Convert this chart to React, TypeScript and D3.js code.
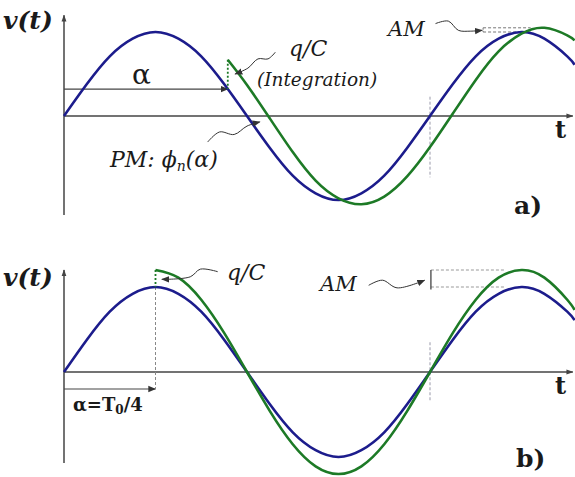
import React from "react";
import * as d3 from "d3";

// time axis: blue period T0 = 4 units
const tBlue = [0, 0.25, 0.5, 0.75, 1, 1.25, 1.5, 1.75, 2, 2.25, 2.5, 2.75, 3, 3.25, 3.5, 3.75, 4, 4.25, 4.5, 4.75, 5, 5.25, 5.5, 5.58];
const vBlue = [0, 0.38, 0.71, 0.92, 1, 0.92, 0.71, 0.38, 0, -0.38, -0.71, -0.92, -1, -0.92, -0.71, -0.38, 0, 0.38, 0.71, 0.92, 1, 0.92, 0.71, 0.61];

// panel a) green starts at alpha
const tGreenA = [1.79, 2, 2.25, 2.5, 2.75, 3, 3.25, 3.5, 3.75, 4, 4.25, 4.5, 4.75, 5, 5.25, 5.5, 5.58];
const vGreenA = [0.67, 0.37, -0.03, -0.43, -0.77, -0.98, -1.05, -0.96, -0.72, -0.37, 0.03, 0.43, 0.77, 0.98, 1.05, 0.96, 0.9];

// panel b) green starts at alpha = T0/4
const tGreenB = [1, 1.25, 1.5, 1.75, 2, 2.25, 2.5, 2.75, 3, 3.25, 3.5, 3.75, 4, 4.25, 4.5, 4.75, 5, 5.25, 5.5, 5.58];
const vGreenB = [1.2, 1.11, 0.85, 0.46, 0, -0.46, -0.85, -1.11, -1.2, -1.11, -0.85, -0.46, 0, 0.46, 0.85, 1.11, 1.2, 1.11, 0.85, 0.73];

const alphaA = 1.79;
const alphaB = 1;

const BLUE = "#1c1c8c";
const GREEN = "#1d7a26";
const AXIS = "#444";

const x = d3.scaleLinear().domain([0, 4]).range([64, 430]);
const yA = d3.scaleLinear().domain([-1, 1]).range([200, 32]);
const yB = d3.scaleLinear().domain([-1, 1]).range([457, 287]);

function pts(ts: number[], vs: number[]): [number, number][] {
  return ts.map((t, i) => [t, vs[i]]);
}

const SERIF = "'DejaVu Serif'";
const T = (p: any) => <text {...p} fontFamily={SERIF} fill="#1a1a1a" />;

export default function App() {
  const lineA = d3.line<[number, number]>().x(d => x(d[0])).y(d => yA(d[1])).curve(d3.curveNatural);
  const lineB = d3.line<[number, number]>().x(d => x(d[0])).y(d => yB(d[1])).curve(d3.curveNatural);
  const sqA = d3.line<[number, number]>().x(d => x(d[0])).y(d => yA(d[1])).curve(d3.curveCatmullRom);
  const sqB = d3.line<[number, number]>().x(d => x(d[0])).y(d => yB(d[1])).curve(d3.curveCatmullRom);

  const vBlueAtAlphaA = 0.32;

  return (
    <svg width={575} height={477} style={{ position: "absolute", left: 0, top: 0, background: "#fff" }}>
      <defs>
        <marker id="ax" viewBox="0 0 10 10" refX="9" refY="5" markerWidth="7" markerHeight="7" orient="auto" markerUnits="userSpaceOnUse">
          <path d="M0,1.5 L10,5 L0,8.5 z" fill={AXIS} />
        </marker>
        <marker id="ar" viewBox="0 0 10 10" refX="9" refY="5" markerWidth="8" markerHeight="8" orient="auto" markerUnits="userSpaceOnUse">
          <path d="M0,1 L10,5 L0,9 z" fill="#333" />
        </marker>
      </defs>

      {/* ===== Panel a ===== */}
      <line x1={x(0)} y1={yA(-1.18)} x2={x(0)} y2={yA(1.2)} stroke={AXIS} strokeWidth={1.5} markerEnd="url(#ax)" />
      <line x1={x(0)} y1={yA(0)} x2={x(5.56)} y2={yA(0)} stroke={AXIS} strokeWidth={1.5} markerEnd="url(#ax)" />
      <line x1={x(0)} y1={yA(vBlueAtAlphaA)} x2={x(alphaA)} y2={yA(vBlueAtAlphaA)} stroke={AXIS} strokeWidth={1.2} markerEnd="url(#ar)" />
      <line x1={x(4)} y1={yA(0.23)} x2={x(4)} y2={yA(-0.73)} stroke="#99a" strokeWidth={1} strokeDasharray="3,2" />
      <line x1={x(4.58)} y1={yA(1.05)} x2={x(5.1)} y2={yA(1.05)} stroke="#777" strokeWidth={1} strokeDasharray="3,2" />
      <line x1={x(4.58)} y1={yA(1.0)} x2={x(5.1)} y2={yA(1.0)} stroke="#777" strokeWidth={1} strokeDasharray="3,2" />
      <line x1={x(4.58)} y1={yA(1.05)} x2={x(4.58)} y2={yA(1.0)} stroke="#777" strokeWidth={1} strokeDasharray="2,1" />
      <path d={lineA(pts(tBlue, vBlue)) || ""} fill="none" stroke={BLUE} strokeWidth={2.6} />
      <path d={lineA(pts(tGreenA, vGreenA)) || ""} fill="none" stroke={GREEN} strokeWidth={2.6} />
      <line x1={x(alphaA)} y1={yA(vGreenA[0])} x2={x(alphaA)} y2={yA(vBlueAtAlphaA)} stroke={GREEN} strokeWidth={1.8} strokeDasharray="2,2" />
      <path d={sqA([[1.57, -0.31], [1.7, -0.19], [1.86, -0.22], [2.0, -0.12], [2.14, -0.07]]) || ""} fill="none" stroke="#333" strokeWidth={1} markerEnd="url(#ar)" />
      <path d={sqA([[2.31, 0.76], [2.23, 0.68], [2.12, 0.68], [2.01, 0.57], [1.87, 0.5]]) || ""} fill="none" stroke="#333" strokeWidth={1} markerEnd="url(#ar)" />
      <path d={sqA([[4.06, 1.1], [4.2, 1.13], [4.31, 1.02], [4.44, 1.01], [4.57, 1.02]]) || ""} fill="none" stroke="#333" strokeWidth={1} markerEnd="url(#ar)" />
      <T x={3} y={29} fontSize={25} fontWeight="bold" fontStyle="italic">v(t)</T>
      <T x={132} y={84} fontSize={28}>α</T>
      <T x={289} y={56} fontSize={22} fontStyle="italic">q/C</T>
      <T x={257} y={86} fontSize={18.5} fontStyle="italic">(Integration)</T>
      <T x={110} y={167} fontSize={22} fontStyle="italic">PM: {"\u03D5"}<tspan fontSize={14} dy={4}>n</tspan><tspan dy={-4}>(α)</tspan></T>
      <T x={388} y={36} fontSize={21} fontStyle="italic">AM</T>
      <T x={555} y={138} fontSize={24} fontWeight="bold">t</T>
      <T x={514} y={214} fontSize={25} fontWeight="bold">a)</T>

      {/* ===== Panel b ===== */}
      <line x1={x(0)} y1={yB(-1.07)} x2={x(0)} y2={yB(1.2)} stroke={AXIS} strokeWidth={1.5} markerEnd="url(#ax)" />
      <line x1={x(0)} y1={yB(0)} x2={x(5.56)} y2={yB(0)} stroke={AXIS} strokeWidth={1.5} markerEnd="url(#ax)" />
      <line x1={x(0)} y1={yB(-0.2)} x2={x(alphaB)} y2={yB(-0.2)} stroke={AXIS} strokeWidth={1.2} markerEnd="url(#ar)" />
      <line x1={x(alphaB)} y1={yB(1)} x2={x(alphaB)} y2={yB(-0.2)} stroke="#888" strokeWidth={1} strokeDasharray="3,2" />
      <line x1={x(4)} y1={yB(0.35)} x2={x(4)} y2={yB(-0.35)} stroke="#99a" strokeWidth={1} strokeDasharray="3,2" />
      <line x1={x(4.01)} y1={yB(1.2)} x2={x(4.82)} y2={yB(1.2)} stroke="#999" strokeWidth={1} strokeDasharray="3,2" />
      <line x1={x(4.01)} y1={yB(1.0)} x2={x(4.82)} y2={yB(1.0)} stroke="#999" strokeWidth={1} strokeDasharray="3,2" />
      <line x1={x(4.01)} y1={yB(1.2)} x2={x(4.01)} y2={yB(0.97)} stroke="#444" strokeWidth={1.3} />
      <path d={lineB(pts(tBlue, vBlue)) || ""} fill="none" stroke={BLUE} strokeWidth={2.6} />
      <path d={lineB(pts(tGreenB, vGreenB)) || ""} fill="none" stroke={GREEN} strokeWidth={2.6} />
      <line x1={x(alphaB)} y1={yB(1.2)} x2={x(alphaB)} y2={yB(1)} stroke={GREEN} strokeWidth={1.8} strokeDasharray="2,2" />
      <path d={sqB([[1.68, 1.18], [1.49, 1.21], [1.38, 1.12], [1.07, 1.09]]) || ""} fill="none" stroke="#333" strokeWidth={1} markerEnd="url(#ar)" />
      <path d={sqB([[3.33, 1.02], [3.48, 1.08], [3.64, 0.99], [3.94, 1.08]]) || ""} fill="none" stroke="#333" strokeWidth={1} markerEnd="url(#ar)" />
      <T x={3} y={286} fontSize={25} fontWeight="bold" fontStyle="italic">v(t)</T>
      <T x={227} y={280} fontSize={22} fontStyle="italic">q/C</T>
      <T x={320} y={291} fontSize={21} fontStyle="italic">AM</T>
      <T x={73} y={411} fontSize={18} fontWeight="bold">α=T<tspan fontSize={12} dy={3}>0</tspan><tspan dy={-3}>/4</tspan></T>
      <T x={555} y={394} fontSize={24} fontWeight="bold">t</T>
      <T x={516} y={467} fontSize={25} fontWeight="bold">b)</T>
    </svg>
  );
}
